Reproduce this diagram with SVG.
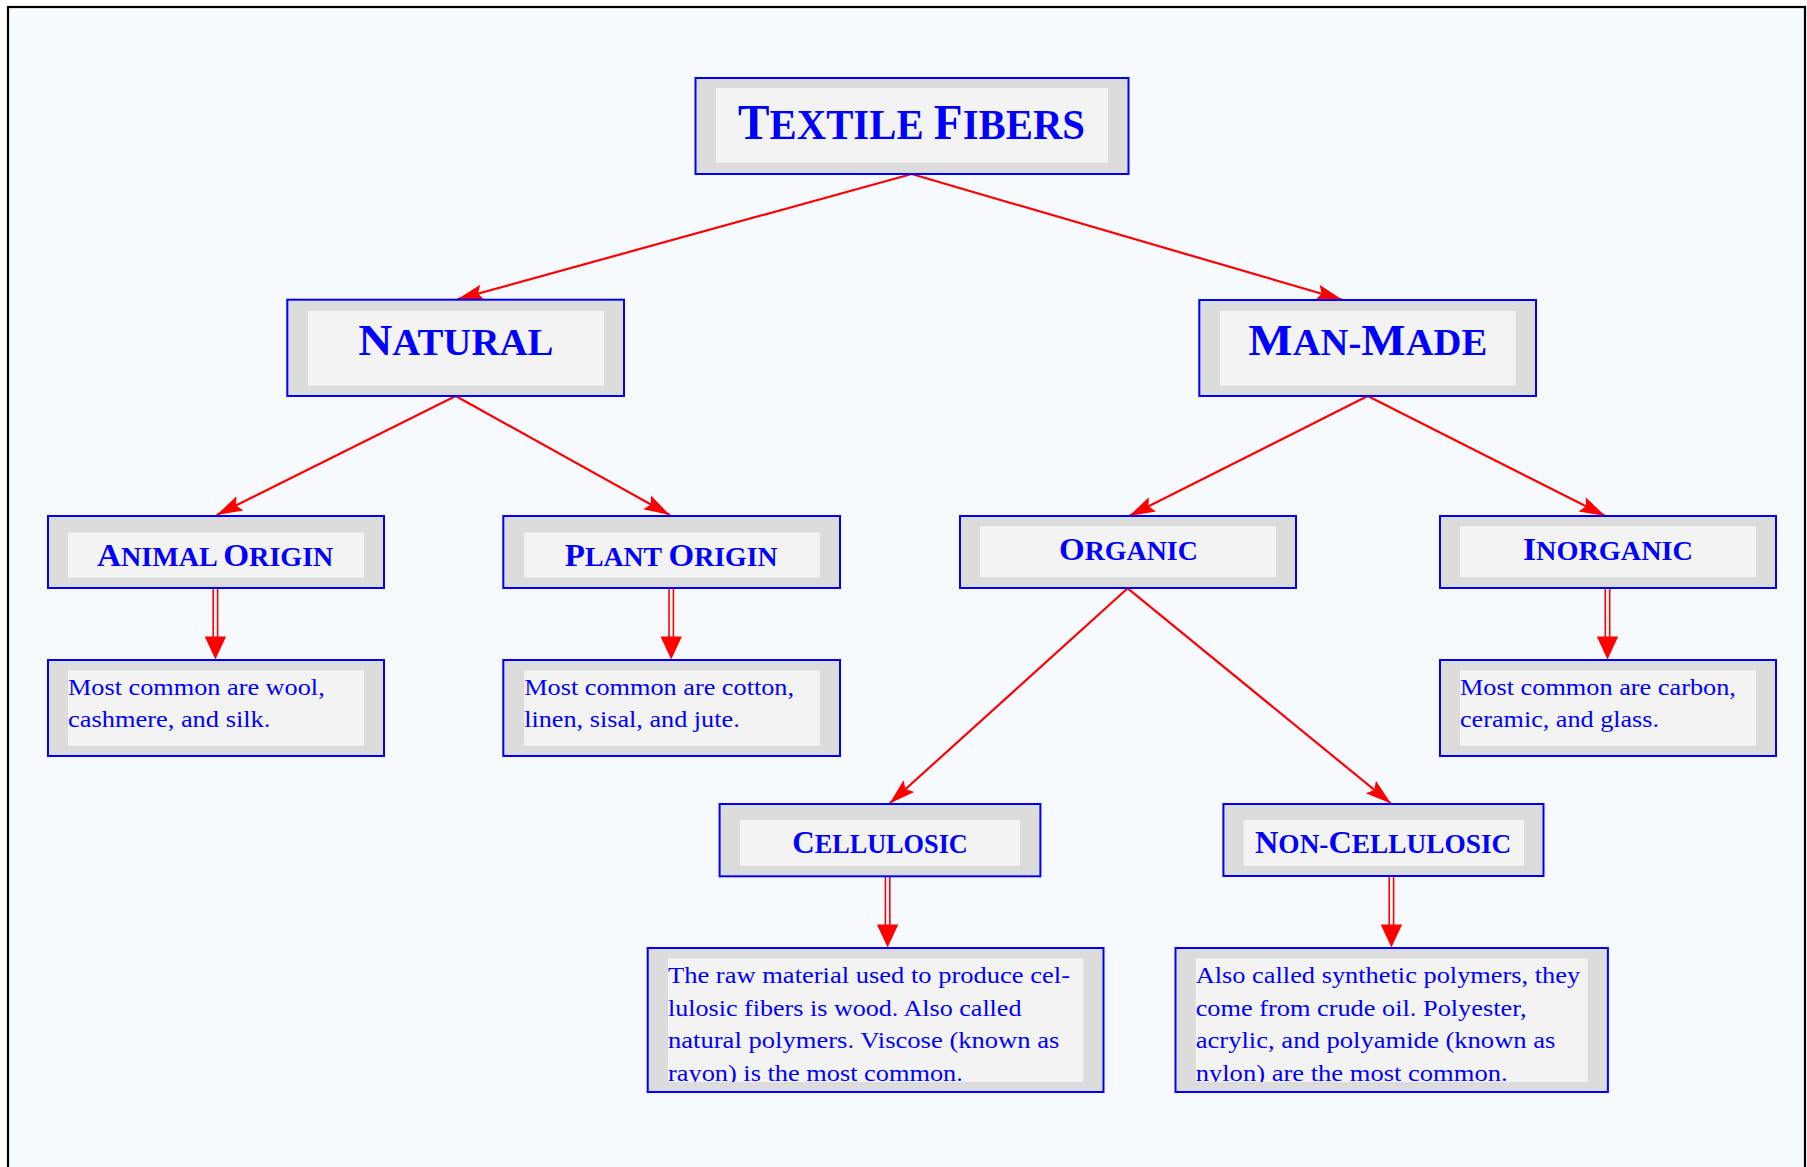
<svg xmlns="http://www.w3.org/2000/svg" width="1807" height="1167" viewBox="0 0 1807 1167">
<style>
.o{fill:#DCDCDC;stroke:#0000FF;stroke-width:2}
.i{fill:#F3F3F3}
.h{font-family:"Liberation Serif",serif;font-weight:bold;fill:#0000FF}
.d{font-family:"Liberation Serif",serif;font-size:23px;fill:#0000FF}
.c{stroke:#FF0000;stroke-width:2.2;fill:none}
.dl{stroke:#FF0000;stroke-width:1.6;fill:none}
.ah{fill:#FF0000}
</style>
<defs>
<marker id="arr" markerUnits="userSpaceOnUse" markerWidth="30" markerHeight="20" viewBox="-28 -10 30 20" refX="0" refY="0" orient="auto">
<path d="M0,0 L-26,-8 L-21.5,0 L-26,8 Z" fill="#FF0000"/>
</marker>
<clipPath id="cp1"><rect x="668" y="958.3" width="415.3" height="123.7"/></clipPath>
<clipPath id="cp2"><rect x="1195.7" y="958.3" width="392" height="123.7"/></clipPath>
</defs>
<rect x="0" y="0" width="1807" height="1167" fill="#FFFFFF"/>
<rect x="8" y="7" width="1797" height="1180" fill="#F6F9FE" stroke="#000000" stroke-width="2.2"/>

<g id="connectors">
<line class="c" x1="911.7" y1="174" x2="457.3" y2="299.3" marker-end="url(#arr)"/>
<line class="c" x1="911.7" y1="174" x2="1342.3" y2="299.7" marker-end="url(#arr)"/>
<line class="c" x1="455.7" y1="396" x2="216.7" y2="515" marker-end="url(#arr)" stroke-width="1.8"/>
<line class="c" x1="455.7" y1="396" x2="669.8" y2="515" marker-end="url(#arr)" stroke-width="1.8"/>
<line class="c" x1="1367.7" y1="396" x2="1129.2" y2="516" marker-end="url(#arr)"/>
<line class="c" x1="1367.7" y1="396" x2="1605.3" y2="516" marker-end="url(#arr)"/>
<line class="c" x1="1127.7" y1="588.3" x2="889.6" y2="803.5" marker-end="url(#arr)"/>
<line class="c" x1="1127.7" y1="588.3" x2="1391" y2="803.5" marker-end="url(#arr)"/>
<g id="dbl-animal"><line class="dl" x1="213.2" y1="589" x2="213.2" y2="638"/><line class="dl" x1="217.6" y1="589" x2="217.6" y2="638"/><path class="ah" d="M204.7,636.5 L226.1,636.5 L215.4,659.5 Z"/></g>
<g id="dbl-plant"><line class="dl" x1="669" y1="589" x2="669" y2="638"/><line class="dl" x1="673.4" y1="589" x2="673.4" y2="638"/><path class="ah" d="M660.5,636.5 L681.9,636.5 L671.2,659.5 Z"/></g>
<g id="dbl-inorganic"><line class="dl" x1="1605.3" y1="589" x2="1605.3" y2="638"/><line class="dl" x1="1609.7" y1="589" x2="1609.7" y2="638"/><path class="ah" d="M1596.8,636.5 L1618.2,636.5 L1607.5,659.5 Z"/></g>
<g id="dbl-cellulosic"><line class="dl" x1="885.4" y1="877" x2="885.4" y2="926"/><line class="dl" x1="889.8" y1="877" x2="889.8" y2="926"/><path class="ah" d="M876.9,924.5 L898.3,924.5 L887.6,947.5 Z"/></g>
<g id="dbl-noncellulosic"><line class="dl" x1="1389.2" y1="877" x2="1389.2" y2="926"/><line class="dl" x1="1393.6" y1="877" x2="1393.6" y2="926"/><path class="ah" d="M1380.7,924.5 L1402.1,924.5 L1391.4,947.5 Z"/></g>
</g>

<g id="textile-fibers">
<rect class="o" x="695.5" y="78" width="433" height="96"/>
<rect class="i" x="716" y="88" width="392" height="74.7"/>
<text class="h" x="738" y="139.3" font-size="43" textLength="347" lengthAdjust="spacingAndGlyphs"><tspan font-size="50">T</tspan>EXTILE <tspan font-size="50">F</tspan>IBERS</text>
</g>

<g id="natural">
<rect class="o" x="287.3" y="299.7" width="336.7" height="96.3"/>
<rect class="i" x="308" y="311" width="296" height="74.7"/>
<text class="h" x="358.3" y="355" font-size="37" textLength="195" lengthAdjust="spacingAndGlyphs"><tspan font-size="45">N</tspan>ATURAL</text>
</g>

<g id="man-made">
<rect class="o" x="1199.3" y="300" width="336.7" height="96"/>
<rect class="i" x="1220" y="311" width="295.7" height="74.7"/>
<text class="h" x="1248.3" y="355" font-size="37" textLength="239" lengthAdjust="spacingAndGlyphs"><tspan font-size="45">M</tspan>AN-<tspan font-size="45">M</tspan>ADE</text>
</g>

<g id="animal-origin">
<rect class="o" x="48" y="516" width="336" height="72"/>
<rect class="i" x="68" y="532.3" width="296" height="45.4"/>
<text class="h" x="97" y="565.7" font-size="27" textLength="236.4" lengthAdjust="spacingAndGlyphs"><tspan font-size="32">A</tspan>NIMAL <tspan font-size="32">O</tspan>RIGIN</text>
</g>

<g id="plant-origin">
<rect class="o" x="503.3" y="516" width="336.7" height="72"/>
<rect class="i" x="524.2" y="532.3" width="295.6" height="45.4"/>
<text class="h" x="564.8" y="565.7" font-size="27" textLength="212.8" lengthAdjust="spacingAndGlyphs"><tspan font-size="32">P</tspan>LANT <tspan font-size="32">O</tspan>RIGIN</text>
</g>

<g id="organic">
<rect class="o" x="960" y="516" width="336" height="72"/>
<rect class="i" x="980" y="526" width="296" height="51"/>
<text class="h" x="1059" y="560" font-size="27" textLength="138.8" lengthAdjust="spacingAndGlyphs"><tspan font-size="32">O</tspan>RGANIC</text>
</g>

<g id="inorganic">
<rect class="o" x="1440" y="516" width="336" height="72"/>
<rect class="i" x="1460" y="526" width="296" height="51"/>
<text class="h" x="1523" y="560" font-size="27" textLength="170" lengthAdjust="spacingAndGlyphs"><tspan font-size="32">I</tspan>NORGANIC</text>
</g>

<g id="animal-desc">
<rect class="o" x="48" y="660" width="336" height="96"/>
<rect class="i" x="68" y="670.3" width="296" height="75.7"/>
<text class="d" x="68" y="695" textLength="256.7" lengthAdjust="spacingAndGlyphs">Most common are wool,</text>
<text class="d" x="68" y="727.3" textLength="202.4" lengthAdjust="spacingAndGlyphs">cashmere, and silk.</text>
</g>

<g id="plant-desc">
<rect class="o" x="503.3" y="660" width="336.7" height="96"/>
<rect class="i" x="524.2" y="670.3" width="295.6" height="75.7"/>
<text class="d" x="524.2" y="695" textLength="269.9" lengthAdjust="spacingAndGlyphs">Most common are cotton,</text>
<text class="d" x="524.2" y="727.3" textLength="215.5" lengthAdjust="spacingAndGlyphs">linen, sisal, and jute.</text>
</g>

<g id="inorganic-desc">
<rect class="o" x="1440" y="660" width="336" height="96"/>
<rect class="i" x="1460" y="670.3" width="296" height="75.7"/>
<text class="d" x="1460" y="695" textLength="275.9" lengthAdjust="spacingAndGlyphs">Most common are carbon,</text>
<text class="d" x="1460" y="727.3" textLength="199" lengthAdjust="spacingAndGlyphs">ceramic, and glass.</text>
</g>

<g id="cellulosic">
<rect class="o" x="719.6" y="804" width="320.8" height="72.3"/>
<rect class="i" x="740" y="820" width="280" height="46"/>
<text class="h" x="792.2" y="853.3" font-size="27" textLength="175.6" lengthAdjust="spacingAndGlyphs"><tspan font-size="32">C</tspan>ELLULOSIC</text>
</g>

<g id="non-cellulosic">
<rect class="o" x="1223.4" y="804" width="320.1" height="72"/>
<rect class="i" x="1243.6" y="820" width="280.4" height="46"/>
<text class="h" x="1255" y="853" font-size="27" textLength="256.3" lengthAdjust="spacingAndGlyphs"><tspan font-size="32">N</tspan>ON-<tspan font-size="32">C</tspan>ELLULOSIC</text>
</g>

<g id="cellulosic-desc">
<rect class="o" x="647.7" y="948" width="455.8" height="144"/>
<rect class="i" x="668" y="958.3" width="415.3" height="123.7"/>
<g clip-path="url(#cp1)">
<text class="d" x="668" y="983.3" textLength="402" lengthAdjust="spacingAndGlyphs">The raw material used to produce cel-</text>
<text class="d" x="668" y="1015.7" textLength="353.5" lengthAdjust="spacingAndGlyphs">lulosic fibers is wood. Also called</text>
<text class="d" x="668" y="1048.3" textLength="391.4" lengthAdjust="spacingAndGlyphs">natural polymers. Viscose (known as</text>
<text class="d" x="668" y="1080.5" textLength="294.8" lengthAdjust="spacingAndGlyphs">rayon) is the most common.</text>
</g>
</g>

<g id="non-cellulosic-desc">
<rect class="o" x="1175.5" y="948" width="432.4" height="144"/>
<rect class="i" x="1195.7" y="958.3" width="392" height="123.7"/>
<g clip-path="url(#cp2)">
<text class="d" x="1195.7" y="983.3" textLength="384.5" lengthAdjust="spacingAndGlyphs">Also called synthetic polymers, they</text>
<text class="d" x="1195.7" y="1015.7" textLength="330.8" lengthAdjust="spacingAndGlyphs">come from crude oil. Polyester,</text>
<text class="d" x="1195.7" y="1048.3" textLength="359.8" lengthAdjust="spacingAndGlyphs">acrylic, and polyamide (known as</text>
<text class="d" x="1195.7" y="1080.5" textLength="311.9" lengthAdjust="spacingAndGlyphs">nylon) are the most common.</text>
</g>
</g>
</svg>
